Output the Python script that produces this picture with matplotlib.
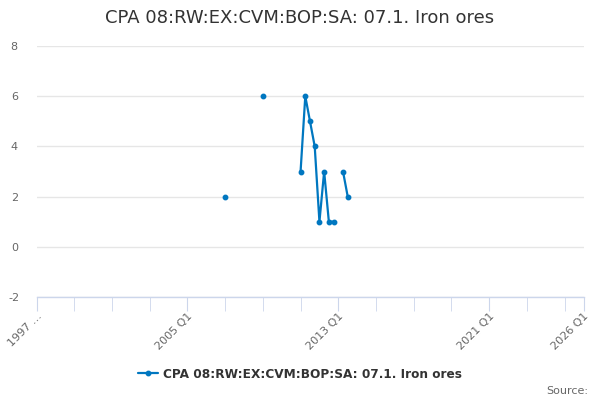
import numpy as np
import matplotlib
matplotlib.use("Agg")
from matplotlib import pyplot as plt

# dados (indice do trimestre contado a partir de 1997 Q1)
# nan onde o grafico tem buraco entre os pontos
quarterIndex = [40, 41, 48, 49, 56, 57, 58, 59, 60, 61, 62, 63, 64, 65, 66]
values = [2, np.nan, 6, np.nan, 3, 6, 5, 4, 1, 3, 1, 1, np.nan, 3, 2]

tickPositions = [0, 32, 64, 96, 116]
tickLabels = ["1997 …", "2005 Q1", "2013 Q1", "2021 Q1", "2026 Q1"]
minorPositions = list(range(8, 116, 8))
yTicks = [-2, 0, 2, 4, 6, 8]

seriesName = "CPA 08:RW:EX:CVM:BOP:SA: 07.1. Iron ores"
lineColor = "#0077c0"

plt.rcParams['axes.unicode_minus'] = False
plt.rcParams['font.family'] = ['DejaVu Sans']

fig = plt.figure(figsize=(6, 4), dpi=100)
ax = fig.add_axes([36.5/600, 1 - 297/400, 547/600, (297 - 46)/400])

# pontos isolados precisam do marcador, por isso marker em todos
ax.plot(quarterIndex, values, color=lineColor, linewidth=1.6, marker='o',
        markersize=3.2, label=seriesName, solid_capstyle='round')

ax.set_xlim(0, 116)
ax.set_ylim(-2, 8)
ax.set_yticks(yTicks)
ax.set_yticklabels([str(v) for v in yTicks])
ax.grid(axis='y', color='#e6e6e6', linewidth=1)
ax.set_axisbelow(True)

for side in ['top', 'right', 'left']:
    ax.spines[side].set_visible(False)
ax.spines['bottom'].set_color('#ccd6eb')
ax.spines['bottom'].set_linewidth(1)

ax.set_xticks(tickPositions)
ax.set_xticklabels(tickLabels, rotation=45, ha='right', rotation_mode='anchor')
ax.set_xticks(minorPositions, minor=True)
ax.tick_params(axis='x', which='both', length=10, color='#ccd6eb', labelcolor='#666666',
               labelsize=8, pad=0)
ax.tick_params(axis='y', length=0, labelcolor='#666666', labelsize=8, pad=16)
for lbl in ax.get_yticklabels():
    lbl.set_horizontalalignment('center')

fig.text(0.5, 1 - 18/400, seriesName, ha='center', va='center', fontsize=13, color='#333333')

leg = fig.legend(loc='center', bbox_to_anchor=(0.5, 1 - 374/400), frameon=False,
                 prop={'weight': 'bold', 'size': 8.75}, handlelength=1.6, handletextpad=0.4)
for t in leg.get_texts():
    t.set_color('#333333')

fig.text(588/600, 1 - 391/400, "Source:", ha='right', va='center', fontsize=8, color='#666666')

fig.savefig("out.png", dpi=100)
